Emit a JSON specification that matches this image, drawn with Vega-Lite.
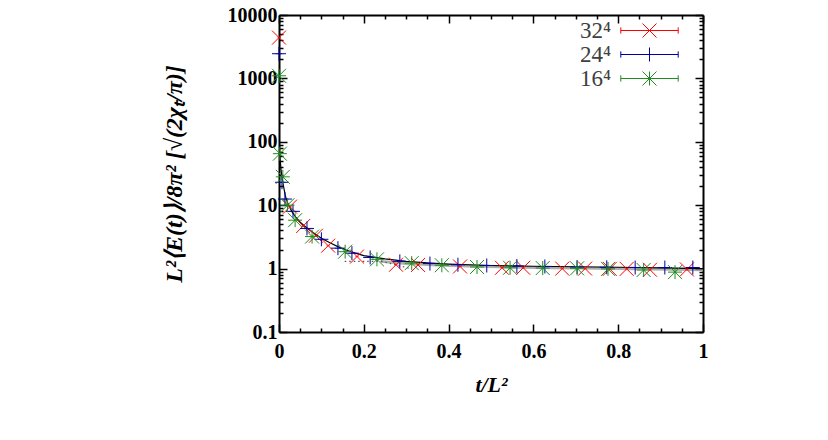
{
  "$schema": "https://vega.github.io/schema/vega-lite/v6.json",
  "width": 424,
  "height": 317,
  "autosize": "none",
  "padding": {"left": 279, "top": 15, "right": 125, "bottom": 108},
  "background": "white",
  "config": {
    "view": {"stroke": null},
    "font": "Liberation Serif",
    "axis": {"domainColor": "black", "domainWidth": 2, "tickColor": "black", "tickWidth": 1.5, "grid": false, "labelFont": "Liberation Serif", "labelFontWeight": "bold", "labelFontSize": 20, "labelColor": "black", "titleFont": "Liberation Serif", "titleFontWeight": "bold", "titleFontStyle": "italic", "titleFontSize": 22, "titleColor": "black", "labelOverlap": false, "labelFlush": false}
  },
  "datasets": {
    "pts": [
      {"t": 0.0, "v": 4400, "L": "32⁴", "dt": 0.004},
      {"t": 0.026, "v": 9.5, "L": "32⁴", "dt": 0.004},
      {"t": 0.057, "v": 4.7, "L": "32⁴", "dt": 0.004},
      {"t": 0.087, "v": 3.3, "L": "32⁴", "dt": 0.004},
      {"t": 0.116, "v": 2.3, "L": "32⁴", "dt": 0.004},
      {"t": 0.184, "v": 1.55, "L": "32⁴", "dt": 0.004},
      {"t": 0.276, "v": 1.15, "L": "32⁴", "dt": 0.004},
      {"t": 0.328, "v": 1.14, "L": "32⁴", "dt": 0.004},
      {"t": 0.427, "v": 1.08, "L": "32⁴", "dt": 0.004},
      {"t": 0.526, "v": 1.03, "L": "32⁴", "dt": 0.004},
      {"t": 0.576, "v": 1.03, "L": "32⁴", "dt": 0.004},
      {"t": 0.668, "v": 1.0, "L": "32⁴", "dt": 0.004},
      {"t": 0.722, "v": 1.0, "L": "32⁴", "dt": 0.004},
      {"t": 0.78, "v": 0.99, "L": "32⁴", "dt": 0.004},
      {"t": 0.82, "v": 0.99, "L": "32⁴", "dt": 0.004},
      {"t": 0.875, "v": 0.96, "L": "32⁴", "dt": 0.004},
      {"t": 0.962, "v": 0.97, "L": "32⁴", "dt": 0.004},
      {"t": 0.0, "v": 2450, "L": "24⁴", "dt": 0.008},
      {"t": 0.007, "v": 23, "L": "24⁴", "dt": 0.008},
      {"t": 0.014, "v": 12.5, "L": "24⁴", "dt": 0.008},
      {"t": 0.033, "v": 8, "L": "24⁴", "dt": 0.008},
      {"t": 0.066, "v": 4.3, "L": "24⁴", "dt": 0.008},
      {"t": 0.1, "v": 2.9, "L": "24⁴", "dt": 0.008},
      {"t": 0.139, "v": 2.1, "L": "24⁴", "dt": 0.008},
      {"t": 0.172, "v": 1.75, "L": "24⁴", "dt": 0.008},
      {"t": 0.215, "v": 1.5, "L": "24⁴", "dt": 0.008},
      {"t": 0.285, "v": 1.3, "L": "24⁴", "dt": 0.008},
      {"t": 0.356, "v": 1.2, "L": "24⁴", "dt": 0.008},
      {"t": 0.422, "v": 1.15, "L": "24⁴", "dt": 0.008},
      {"t": 0.49, "v": 1.12, "L": "24⁴", "dt": 0.008},
      {"t": 0.561, "v": 1.1, "L": "24⁴", "dt": 0.008},
      {"t": 0.627, "v": 1.08, "L": "24⁴", "dt": 0.008},
      {"t": 0.703, "v": 1.06, "L": "24⁴", "dt": 0.008},
      {"t": 0.773, "v": 1.05, "L": "24⁴", "dt": 0.008},
      {"t": 0.84, "v": 1.04, "L": "24⁴", "dt": 0.008},
      {"t": 0.91, "v": 1.04, "L": "24⁴", "dt": 0.008},
      {"t": 0.976, "v": 1.04, "L": "24⁴", "dt": 0.008},
      {"t": 0.0, "v": 1100, "L": "16⁴", "dt": 0.004},
      {"t": 0.002, "v": 65, "L": "16⁴", "dt": 0.004},
      {"t": 0.009, "v": 28, "L": "16⁴", "dt": 0.004},
      {"t": 0.02, "v": 10, "L": "16⁴", "dt": 0.004},
      {"t": 0.038, "v": 5.8, "L": "16⁴", "dt": 0.004},
      {"t": 0.078, "v": 3.2, "L": "16⁴", "dt": 0.004},
      {"t": 0.156, "v": 1.85, "L": "16⁴", "dt": 0.004},
      {"t": 0.231, "v": 1.4, "L": "16⁴", "dt": 0.004},
      {"t": 0.313, "v": 1.22, "L": "16⁴", "dt": 0.004},
      {"t": 0.384, "v": 1.13, "L": "16⁴", "dt": 0.004},
      {"t": 0.467, "v": 1.06, "L": "16⁴", "dt": 0.004},
      {"t": 0.545, "v": 1.03, "L": "16⁴", "dt": 0.004},
      {"t": 0.622, "v": 1.02, "L": "16⁴", "dt": 0.004},
      {"t": 0.703, "v": 1.01, "L": "16⁴", "dt": 0.004},
      {"t": 0.776, "v": 0.99, "L": "16⁴", "dt": 0.004},
      {"t": 0.86, "v": 0.95, "L": "16⁴", "dt": 0.004},
      {"t": 0.934, "v": 0.88, "L": "16⁴", "dt": 0.004}
    ],
    "fit": [
      {"t": 0.002, "v": 60}, {"t": 0.005, "v": 35}, {"t": 0.01, "v": 21}, {"t": 0.015, "v": 14},
      {"t": 0.02, "v": 11}, {"t": 0.03, "v": 8}, {"t": 0.04, "v": 6.4}, {"t": 0.05, "v": 5.4},
      {"t": 0.06, "v": 4.7}, {"t": 0.08, "v": 3.7}, {"t": 0.1, "v": 3.0}, {"t": 0.12, "v": 2.55},
      {"t": 0.14, "v": 2.2}, {"t": 0.16, "v": 1.95}, {"t": 0.18, "v": 1.75}, {"t": 0.2, "v": 1.6},
      {"t": 0.25, "v": 1.42}, {"t": 0.3, "v": 1.3}, {"t": 0.35, "v": 1.23}, {"t": 0.4, "v": 1.18},
      {"t": 0.5, "v": 1.12}, {"t": 0.6, "v": 1.09}, {"t": 0.7, "v": 1.07}, {"t": 0.8, "v": 1.05},
      {"t": 0.9, "v": 1.03}, {"t": 1.0, "v": 1.0}
    ],
    "gray": [
      {"t": 0.24, "v": 1.3}, {"t": 0.3, "v": 1.2}, {"t": 0.4, "v": 1.12}, {"t": 0.6, "v": 1.04},
      {"t": 0.8, "v": 1.0}, {"t": 1.0, "v": 0.96}
    ],
    "dots": [
      {"t": 0.155, "v": 1.3, "seg": "a"}, {"t": 0.245, "v": 1.3, "seg": "a"},
      {"t": 0.22, "v": 1.42, "seg": "b"}, {"t": 0.31, "v": 1.0, "seg": "b"}
    ]
  },
  "layer": [
    {
      "data": {"name": "gray"},
      "mark": {"type": "line", "color": "#9a9a9a", "strokeWidth": 3, "opacity": 0.8},
      "encoding": {
        "x": {"field": "t", "type": "quantitative", "scale": {"domain": [0, 1], "nice": false}, "axis": null},
        "y": {"field": "v", "type": "quantitative", "scale": {"type": "log", "domain": [0.1, 10000], "nice": false}, "axis": null}
      }
    },
    {
      "data": {"name": "dots"},
      "mark": {"type": "line", "color": "#555555", "strokeWidth": 1.2, "strokeDash": [1.5, 3]},
      "encoding": {
        "x": {"field": "t", "type": "quantitative", "axis": null},
        "y": {"field": "v", "type": "quantitative", "axis": null},
        "detail": {"field": "seg"}
      }
    },
    {
      "data": {"name": "fit"},
      "mark": {"type": "line", "color": "black", "strokeWidth": 1.2},
      "encoding": {
        "x": {"field": "t", "type": "quantitative", "axis": {"orient": "top", "title": null, "labels": false, "values": [0,0.05,0.1,0.15,0.2,0.25,0.3,0.35,0.4,0.45,0.5,0.55,0.6,0.65,0.7,0.75,0.8,0.85,0.9,0.95,1], "tickSize": {"condition": {"test": "abs(datum.value*5 - round(datum.value*5)) < 0.001", "value": -8}, "value": -4}}},
        "y": {"field": "v", "type": "quantitative", "axis": {"orient": "right", "title": null, "labels": false, "values": [0.1,0.2,0.3,0.4,0.5,0.6,0.7,0.8,0.9,1,2,3,4,5,6,7,8,9,10,20,30,40,50,60,70,80,90,100,200,300,400,500,600,700,800,900,1000,2000,3000,4000,5000,6000,7000,8000,9000,10000], "tickSize": {"condition": {"test": "indexof([0.1,1,10,100,1000,10000], datum.value) >= 0", "value": -8}, "value": -4}}}
      }
    },
    {
      "data": {"name": "pts"},
      "transform": [{"calculate": "datum.t - datum.dt", "as": "lo"}, {"calculate": "datum.t + datum.dt", "as": "hi"}],
      "mark": {"type": "rule", "strokeWidth": 1, "opacity": 0.6},
      "encoding": {
        "x": {"field": "lo", "type": "quantitative", "axis": null},
        "x2": {"field": "hi"},
        "y": {"field": "v", "type": "quantitative", "axis": null},
        "color": {"field": "L", "type": "nominal", "scale": {"domain": ["32⁴", "24⁴", "16⁴"], "range": ["#ff0000", "#0000a0", "#228b22"]},
          "legend": {"orient": "none", "legendX": 359, "legendY": 4, "title": null, "padding": 0, "rowPadding": 0, "symbolType": "M-4.1,0H4.1M-4.1,-0.45V0.45M4.1,-0.45V0.45", "symbolSize": 196, "symbolStrokeWidth": 1, "symbolOpacity": 1, "symbolFillColor": "transparent", "labelAlign": "right", "labelOffset": -50, "labelFont": "Liberation Serif", "labelFontSize": 23, "labelColor": "#404040"}}
      }
    },
    {
      "data": {"name": "pts"},
      "mark": {"type": "point", "filled": false, "strokeWidth": 1, "size": 196, "opacity": 1},
      "encoding": {
        "x": {"field": "t", "type": "quantitative", "axis": {"orient": "bottom", "title": "t/L²", "titlePadding": 9, "values": [0,0.05,0.1,0.15,0.2,0.25,0.3,0.35,0.4,0.45,0.5,0.55,0.6,0.65,0.7,0.75,0.8,0.85,0.9,0.95,1], "labelExpr": "abs(datum.value*5 - round(datum.value*5)) < 0.001 ? format(datum.value, '~g') : ''", "labelPadding": 17, "tickSize": {"condition": {"test": "abs(datum.value*5 - round(datum.value*5)) < 0.001", "value": -8}, "value": -4}}},
        "y": {"field": "v", "type": "quantitative", "axis": {"orient": "left", "title": "L²⟨E(t)⟩/8π²  [√(2χₜ/π)]", "titleFontSize": 24, "titlePadding": 41, "values": [0.1,0.2,0.3,0.4,0.5,0.6,0.7,0.8,0.9,1,2,3,4,5,6,7,8,9,10,20,30,40,50,60,70,80,90,100,200,300,400,500,600,700,800,900,1000,2000,3000,4000,5000,6000,7000,8000,9000,10000], "labelExpr": "indexof([0.1,1,10,100,1000,10000], datum.value) >= 0 ? format(datum.value, '~g') : ''", "labelPadding": 10, "tickSize": {"condition": {"test": "indexof([0.1,1,10,100,1000,10000], datum.value) >= 0", "value": -8}, "value": -4}}},
        "color": {"field": "L", "type": "nominal",
          "legend": {"orient": "none", "legendX": 359, "legendY": 4, "title": null, "padding": 0, "rowPadding": 0, "symbolSize": 196, "symbolStrokeWidth": 1, "labelExpr": "''", "labelFontSize": 23}},
        "shape": {"field": "L", "type": "nominal", "scale": {"domain": ["32⁴", "24⁴", "16⁴"], "range": ["M-1,-1L1,1M-1,1L1,-1", "M-1,0L1,0M0,-1L0,1", "M-1,-1L1,1M-1,1L1,-1M-1,0L1,0M0,-1L0,1"]},
          "legend": {"orient": "none", "legendX": 359, "legendY": 4, "title": null, "padding": 0, "rowPadding": 0, "symbolSize": 196, "symbolStrokeWidth": 1, "labelExpr": "''", "labelFontSize": 23}}
      }
    }
  ],
  "resolve": {"axis": {"x": "independent", "y": "independent"}, "legend": {"color": "independent", "shape": "independent"}}
}
